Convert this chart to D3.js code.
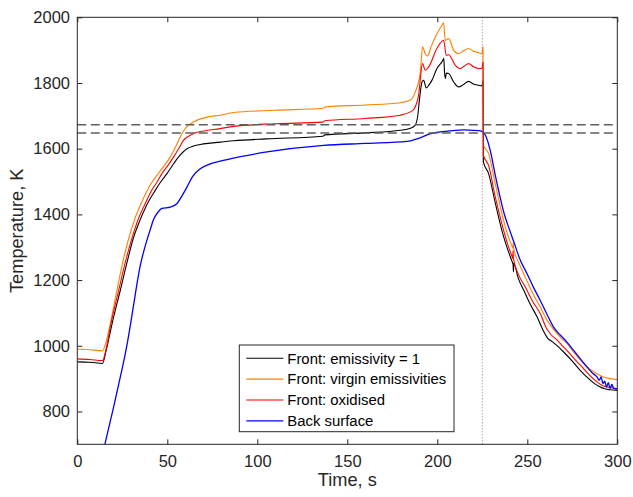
<!DOCTYPE html>
<html>
<head>
<meta charset="utf-8">
<script src="https://cdn.jsdelivr.net/npm/d3@7"></script>
<style>
    body { margin: 0; background: #ffffff; }
    text { font-family: "Liberation Sans", Arial, sans-serif; }
</style>
</head>
<body>
<div id="chart"></div>
<script>
// Data: [time (s), temperature (K)]
const frontEmissivity1 = [
    [0, 951], [7, 950], [14, 946], [16, 985], [19.3, 1067], [23.9, 1169], [28, 1262], [31, 1325],
    [34.5, 1378], [38.5, 1428], [43.3, 1473], [46.5, 1500], [49.8, 1524], [53.5, 1554], [56.3, 1575], [60.9, 1600],
    [64.5, 1608], [68.3, 1613], [73.9, 1617], [79.4, 1620], [86.9, 1624], [105, 1630], [136.5, 1638],
    [137.5, 1642], [160, 1648], [179.4, 1656], [185, 1662], [187.5, 1670], [189, 1695], [190.3, 1760],
    [191.5, 1803], [192.4, 1808], [193.9, 1785], [195.5, 1795], [197, 1808], [199.8, 1844], [203.1, 1869],
    [203.6, 1875], [204, 1834], [204.5, 1813], [205, 1830], [206.3, 1829], [209.1, 1803], [211.8, 1788],
    [214.5, 1795], [217.4, 1805], [220, 1797], [222.9, 1793], [224.8, 1791], [225.4, 1808], [225.6, 1560],
    [228.5, 1524], [232.2, 1435], [236.8, 1333], [239, 1295], [241.5, 1257], [242.1, 1248], [242.3, 1225],
    [242.5, 1250], [245, 1205], [248, 1169], [251.5, 1128], [255.4, 1088], [259, 1045], [261.5, 1022],
    [264, 1012], [267, 998], [270.2, 981], [275, 953], [279.4, 925], [283, 905], [286.8, 887], [290, 876],
    [293, 869], [296, 866], [300, 864]
];

const frontVirgin = [
    [0, 990], [7, 988], [14, 985], [16, 1012], [18.3, 1067], [22, 1169], [25.7, 1265], [29, 1335],
    [32.2, 1390], [36, 1440], [40.6, 1490], [45.2, 1526], [48.5, 1550], [51.7, 1575], [55, 1610],
    [58, 1645], [61, 1668], [64.6, 1681], [68, 1690], [72, 1696], [79.4, 1702], [86.9, 1710], [110, 1717],
    [136.5, 1723], [137.5, 1727], [160, 1733], [179.4, 1740], [185, 1748], [187.8, 1773], [190.6, 1834],
    [191.8, 1910], [193.3, 1889], [194.6, 1882], [196.5, 1910], [199.8, 1950], [202.6, 1976], [203.5, 1983],
    [204.4, 1930], [206.3, 1935], [209.1, 1900], [211.8, 1889], [214.5, 1898], [217.4, 1905], [220, 1897],
    [222, 1894], [224.8, 1889], [225.4, 1910], [225.6, 1612], [228.5, 1585], [232.2, 1494], [236.8, 1382],
    [239, 1340], [241.5, 1303], [242, 1297], [242.2, 1315], [242.4, 1297], [245.5, 1250], [248.9, 1209],
    [253, 1160], [257.2, 1118], [261, 1078], [264.6, 1050], [268, 1028], [272, 1007], [276.5, 975],
    [281.3, 946], [285, 928], [288.7, 915], [292, 906], [296, 900], [300, 897]
];

const frontOxidised = [
    [0, 960], [7, 958], [14, 955], [16, 990], [18.7, 1067], [23, 1169], [27.2, 1265], [30.5, 1330],
    [33.5, 1380], [37.5, 1430], [41.5, 1475], [44.5, 1500], [47, 1524], [50.5, 1550], [53.5, 1575], [56.3, 1600],
    [59.1, 1626], [62.8, 1641], [66, 1649], [70.2, 1654], [79.4, 1661], [86.9, 1668], [110, 1676],
    [136.5, 1681], [137.5, 1685], [160, 1692], [179.4, 1702], [185, 1712], [187, 1720], [189.6, 1763],
    [191.8, 1859], [193.3, 1839], [195.2, 1849], [199.8, 1905], [203.5, 1930], [205, 1884], [206.3, 1886],
    [210, 1854], [212.8, 1844], [215, 1852], [217.4, 1859], [220, 1850], [222.9, 1844], [224.8, 1844],
    [225.4, 1864], [225.6, 1580], [228.5, 1549], [232.2, 1453], [236.8, 1352], [239, 1310], [241.5, 1272],
    [241.9, 1266], [242.1, 1290], [242.3, 1266], [245, 1218], [248.9, 1179], [253, 1135], [257.2, 1098],
    [260.5, 1055], [263, 1035], [266, 1020], [269, 1003], [272, 986], [276.5, 958], [281.3, 930],
    [285, 908], [288.7, 890], [292, 878], [296, 873], [300, 870]
];

const backSurface = [
    [15.3, 700], [20.2, 814], [23.9, 905], [27, 985], [29.4, 1060], [31.3, 1125], [35, 1245], [36.8, 1285],
    [40.6, 1355], [42.4, 1385], [45, 1408], [47, 1418], [51.7, 1422], [55.4, 1433], [58, 1455], [60.9, 1483],
    [64, 1515], [68.3, 1539], [73.9, 1554], [79.4, 1562], [83.2, 1567], [105.4, 1590], [136.9, 1610],
    [160, 1616], [183.2, 1622], [190, 1632], [196, 1645], [201.7, 1651], [210, 1656], [215, 1657],
    [220, 1656], [224, 1654], [226.7, 1641], [229.4, 1595], [232, 1525], [234.5, 1462], [237, 1405],
    [240, 1355], [242.4, 1318], [246, 1262], [249.8, 1220], [253.5, 1177], [257.2, 1138], [261, 1095],
    [264.6, 1057], [267, 1040], [269.3, 1027], [272.5, 1008], [275.7, 986], [279.5, 960], [283.2, 935],
    [286, 918], [288.7, 905], [290, 895], [291, 905], [292, 885], [293, 892], [294, 874], [295, 888],
    [296, 870], [297, 882], [298, 870], [300, 868]
];

const seriesNames = ["Front: emissivity = 1", "Front: virgin emissivities", "Front: oxidised", "Back surface"];
const seriesColors = ["#000000", "#ff8000", "#ff0000", "#0000ff"];
const allSeries = [frontEmissivity1, frontVirgin, frontOxidised, backSurface];

const refTemps = [1673, 1648];   // dashed horizontal lines
const refTime = 225;             // dotted vertical line

const xTicks = [0, 50, 100, 150, 200, 250, 300];
const yTicks = [800, 1000, 1200, 1400, 1600, 1800, 2000];

// Dimensions and margins
const width = 633,
    height = 497;
const margin = {top: 17.3, right: 15.7, bottom: 52.7, left: 77.3};
const axisColor = "#262626";

const svg = d3.select("#chart")
    .append("svg")
    .attr("width", width)
    .attr("height", height)
    .style("background", "#ffffff");

// Scales
const xScale = d3.scaleLinear()
    .domain([0, 300])
    .range([margin.left, width - margin.right]);

const yScale = d3.scaleLinear()
    .domain([700, 2000])
    .range([height - margin.bottom, margin.top]);

svg.append("clipPath")
    .attr("id", "plot-clip")
    .append("rect")
    .attr("x", margin.left)
    .attr("y", margin.top)
    .attr("width", width - margin.left - margin.right)
    .attr("height", height - margin.top - margin.bottom);

// Data lines
const line = d3.line()
    .curve(d3.curveMonotoneX)
    .x(d => xScale(d[0]))
    .y(d => yScale(d[1]));

allSeries.forEach((data, i) => {
    svg.append("path")
        .datum(data)
        .attr("clip-path", "url(#plot-clip)")
        .attr("fill", "none")
        .attr("stroke", seriesColors[i])
        .attr("stroke-width", i === 3 ? 1.3 : 1.1)
        .attr("stroke-linejoin", "round")
        .attr("d", line);
});

// Reference lines
svg.selectAll(".ref-h")
    .data(refTemps)
    .enter().append("line")
    .attr("x1", xScale(0))
    .attr("x2", xScale(300))
    .attr("y1", d => yScale(d))
    .attr("y2", d => yScale(d))
    .attr("stroke", "#5f5f5f")
    .attr("stroke-width", 1.5)
    .attr("stroke-dasharray", "9,4.5");

svg.append("line")
    .attr("x1", xScale(refTime))
    .attr("x2", xScale(refTime))
    .attr("y1", yScale(700))
    .attr("y2", yScale(2000))
    .attr("stroke", "#808080")
    .attr("stroke-width", 1)
    .attr("stroke-dasharray", "1,2");

// Axes (ticks pointing inward, like the original)
function styleAxis(g, fontSize) {
    g.select(".domain").remove();
    g.selectAll(".tick line").attr("stroke", axisColor);
    g.selectAll("text")
        .attr("fill", axisColor)
        .style("font-family", "'Liberation Sans', Arial, sans-serif")
        .style("font-size", fontSize);
}

svg.append("g")
    .attr("transform", `translate(0,${yScale(700)})`)
    .call(d3.axisBottom(xScale).tickValues(xTicks).tickSize(-5).tickPadding(10.5))
    .call(g => styleAxis(g, "16.5px"));

svg.append("g")
    .attr("transform", `translate(0,${yScale(2000)})`)
    .call(d3.axisTop(xScale).tickValues(xTicks).tickSize(-5).tickFormat(""))
    .call(g => styleAxis(g, "16.5px"));

svg.append("g")
    .attr("transform", `translate(${xScale(0)},0)`)
    .call(d3.axisLeft(yScale).tickValues(yTicks).tickSize(-5).tickPadding(7.3).tickFormat(d3.format("d")))
    .call(g => styleAxis(g, "16.5px"));

svg.append("g")
    .attr("transform", `translate(${xScale(300)},0)`)
    .call(d3.axisRight(yScale).tickValues(yTicks).tickSize(-5).tickFormat(""))
    .call(g => styleAxis(g, "16.5px"));

// Box around the plot
svg.append("rect")
    .attr("x", xScale(0))
    .attr("y", yScale(2000))
    .attr("width", xScale(300) - xScale(0))
    .attr("height", yScale(700) - yScale(2000))
    .attr("fill", "none")
    .attr("stroke", axisColor)
    .attr("stroke-width", 1);

// Axis labels
svg.append("text")
    .attr("x", (xScale(0) + xScale(300)) / 2)
    .attr("y", 486)
    .style("text-anchor", "middle")
    .style("font-size", "18.2px")
    .attr("fill", axisColor)
    .text("Time, s");

svg.append("text")
    .attr("transform", "rotate(-90)")
    .attr("y", 22.5)
    .attr("x", 0 - (yScale(700) + yScale(2000)) / 2)
    .style("text-anchor", "middle")
    .style("font-size", "18.2px")
    .attr("fill", axisColor)
    .text("Temperature, K");

// Legend
const legendBox = {x: 239.3, y: 345, w: 214.7, h: 86.7};
svg.append("rect")
    .attr("x", legendBox.x)
    .attr("y", legendBox.y)
    .attr("width", legendBox.w)
    .attr("height", legendBox.h)
    .attr("fill", "#ffffff")
    .attr("stroke", axisColor)
    .attr("stroke-width", 1);

const legend = svg.selectAll(".legend")
    .data(seriesNames)
    .enter().append("g")
    .attr("class", "legend")
    .attr("transform", (d, i) => `translate(${legendBox.x},${legendBox.y + 13.2 + i * 20.9})`);

legend.append("line")
    .attr("x1", 7)
    .attr("x2", 44)
    .attr("y1", 0)
    .attr("y2", 0)
    .attr("stroke", (d, i) => seriesColors[i])
    .attr("stroke-width", 1.1);

legend.append("text")
    .attr("x", 48)
    .attr("y", 0)
    .attr("dy", "0.36em")
    .style("text-anchor", "start")
    .style("font-size", "14.9px")
    .attr("fill", "#000000")
    .text(d => d);
</script>
</body>
</html>
